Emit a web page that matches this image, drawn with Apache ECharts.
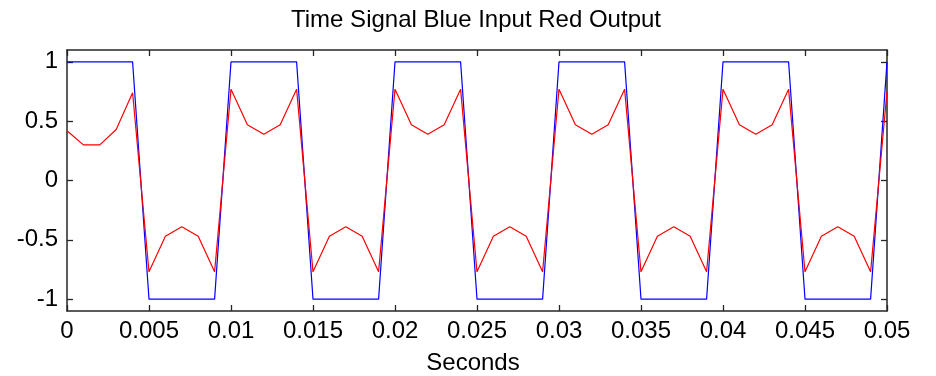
<!DOCTYPE html>
<html>
<head>
<meta charset="utf-8">
<script src="https://cdn.jsdelivr.net/npm/echarts@6/dist/echarts.min.js"></script>
<style>
  html, body {margin: 0; padding: 0; background: #fff;}
  #chart {width: 936px; height: 376px;}
</style>
</head>
<body>
<div id="chart"></div>
<script>
// sample times (s)
const times = [
  0, 0.001, 0.002, 0.003, 0.004, 0.005, 0.006, 0.007, 0.008, 0.009,
  0.010, 0.011, 0.012, 0.013, 0.014, 0.015, 0.016, 0.017, 0.018, 0.019,
  0.020, 0.021, 0.022, 0.023, 0.024, 0.025, 0.026, 0.027, 0.028, 0.029,
  0.030, 0.031, 0.032, 0.033, 0.034, 0.035, 0.036, 0.037, 0.038, 0.039,
  0.040, 0.041, 0.042, 0.043, 0.044, 0.045, 0.046, 0.047, 0.048, 0.049,
  0.050
];
// blue input square wave
const inputSignal = [
  1, 1, 1, 1, 1, -1, -1, -1, -1, -1,
  1, 1, 1, 1, 1, -1, -1, -1, -1, -1,
  1, 1, 1, 1, 1, -1, -1, -1, -1, -1,
  1, 1, 1, 1, 1, -1, -1, -1, -1, -1,
  1, 1, 1, 1, 1, -1, -1, -1, -1, -1,
  1
];
// red filtered output
const outputSignal = [
  0.42, 0.30, 0.30, 0.43, 0.74, -0.77, -0.47, -0.39, -0.47, -0.77,
  0.77, 0.47, 0.39, 0.47, 0.77, -0.77, -0.47, -0.39, -0.47, -0.77,
  0.77, 0.47, 0.39, 0.47, 0.77, -0.77, -0.47, -0.39, -0.47, -0.77,
  0.77, 0.47, 0.39, 0.47, 0.77, -0.77, -0.47, -0.39, -0.47, -0.77,
  0.77, 0.47, 0.39, 0.47, 0.77, -0.77, -0.47, -0.39, -0.47, -0.77,
  0.75
];
const xTicks = {min: 0, max: 0.05, interval: 0.005};
const yTicks = {min: -1.1, max: 1.1, values: [-1, -0.5, 0, 0.5, 1]};

const font = "Liberation Sans, Arial, sans-serif";
const frame = {show: true, onZero: false, lineStyle: {color: "#262626", width: 1.5}};
const tick = {show: true, inside: true, length: 6, lineStyle: {color: "#262626", width: 1.3}};
const fmt = v => String(parseFloat(Number(v).toFixed(4)));

const chart = echarts.init(document.getElementById("chart"), null, {renderer: "canvas"});
chart.setOption({
  animation: false,
  backgroundColor: "#fff",
  title: {
    text: "Time Signal Blue Input Red Output",
    left: 471, top: 3, textAlign: "center",
    textStyle: {fontFamily: font, fontSize: 24, fontWeight: "normal", color: "#000"}
  },
  grid: {left: 67, right: 49, top: 50, bottom: 65, containLabel: false, outerBoundsMode: "none"},
  xAxis: [{
    type: "value", min: xTicks.min, max: xTicks.max, interval: xTicks.interval,
    position: "bottom",
    name: "Seconds", nameLocation: "middle", nameGap: 40,
    nameTextStyle: {fontFamily: font, fontSize: 24, color: "#000", padding: [0, 8, 0, 0]},
    axisLine: frame, axisTick: tick, splitLine: {show: false},
    axisLabel: {margin: 8, fontFamily: font, fontSize: 24, color: "#000", formatter: fmt}
  }, {
    type: "value", min: xTicks.min, max: xTicks.max, interval: xTicks.interval,
    position: "top",
    axisLine: frame, axisTick: tick, splitLine: {show: false}, axisLabel: {show: false}
  }],
  yAxis: [{
    type: "value", min: yTicks.min, max: yTicks.max,
    position: "left",
    axisLine: frame, axisTick: {...tick, customValues: yTicks.values},
    splitLine: {show: false},
    axisLabel: {margin: 9, fontFamily: font, fontSize: 24, color: "#000",
      customValues: yTicks.values, formatter: fmt}
  }, {
    type: "value", min: yTicks.min, max: yTicks.max,
    position: "right",
    axisLine: frame, axisTick: {...tick, customValues: yTicks.values},
    splitLine: {show: false}, axisLabel: {show: false}
  }],
  series: [{
    name: "Input", type: "line", showSymbol: false,
    data: times.map((t, i) => [t, inputSignal[i]]),
    lineStyle: {color: "#0000ff", width: 1.2}
  }, {
    name: "Output", type: "line", showSymbol: false,
    data: times.map((t, i) => [t, outputSignal[i]]),
    lineStyle: {color: "#ff0000", width: 1.2}
  }]
});
</script>
</body>
</html>
